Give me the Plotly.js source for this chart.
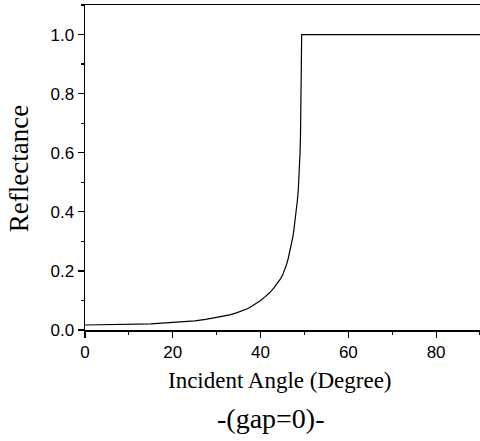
<!DOCTYPE html>
<html>
<head>
<meta charset="utf-8">
<script src="https://cdn.plot.ly/plotly-3.0.1.min.js"></script>
<style>html,body{margin:0;padding:0;background:#fff;}</style>
</head>
<body>
<div id="chart" style="width:480px;height:441px;"></div>
<script>
const angle = [0, 5, 10, 15, 17.5, 20, 22.5, 25, 27.5, 30, 31.5, 33, 34.5, 36, 37, 38, 39, 40, 41, 42, 43, 43.5, 44, 44.5, 45, 45.5, 46, 46.3, 46.6, 46.9, 47.2, 47.4, 47.6, 47.8, 48.0, 48.2, 48.4, 48.6, 48.8, 49.0, 49.1, 49.2, 49.3, 49.37, 90];
const reflectance = [0.017, 0.0175, 0.019, 0.021, 0.023, 0.025, 0.028, 0.031, 0.036, 0.042, 0.046, 0.051, 0.058, 0.066, 0.072, 0.080, 0.089, 0.100, 0.112, 0.125, 0.142, 0.151, 0.162, 0.172, 0.185, 0.203, 0.225, 0.242, 0.26, 0.28, 0.30, 0.318, 0.34, 0.363, 0.39, 0.413, 0.44, 0.475, 0.52, 0.60, 0.66, 0.74, 0.84, 1.0, 1.0];
const xTitle = "Incident Angle (Degree)";
const yTitle = "Reflectance";
const subTitle = "-(gap=0)-";

const trace = {
  x: angle, y: reflectance, type: 'scatter', mode: 'lines',
  line: {color: '#000', width: 1.2}, hoverinfo: 'skip'
};
const tickFont = {family: 'Liberation Sans, Arial, sans-serif', size: 17, color: '#000'};
const xTitleFont = {family: 'Liberation Serif, Times New Roman, serif', size: 23, color: '#000'};
const subTitleFont = {family: 'Liberation Serif, Times New Roman, serif', size: 28, color: '#000'};
const yTitleFont = {family: 'Liberation Serif, Times New Roman, serif', size: 27, color: '#000'};
const layout = {
  width: 480, height: 441,
  margin: {l: 85, r: 0, t: 5, b: 111},
  paper_bgcolor: '#fff', plot_bgcolor: '#fff',
  showlegend: false,
  xaxis: {
    range: [0, 90], showgrid: false, zeroline: false,
    showline: true, linecolor: '#000', linewidth: 1.5, mirror: true,
    ticks: 'outside', ticklen: 6, tickwidth: 1.2, tickcolor: '#000',
    dtick: 20, tick0: 0, tickfont: tickFont,
    minor: {dtick: 10, ticks: 'outside', ticklen: 3, tickwidth: 1.2, tickcolor: '#000', showgrid: false}
  },
  yaxis: {
    range: [0, 1.1], showgrid: false, zeroline: false,
    showline: true, linecolor: '#000', linewidth: 1.5, mirror: false,
    ticks: 'outside', ticklen: 6, tickwidth: 1.2, tickcolor: '#000',
    dtick: 0.2, tick0: 0, tickformat: '.1f', tickfont: tickFont,
    minor: {dtick: 0.1, ticks: 'outside', ticklen: 3, tickwidth: 1.2, tickcolor: '#000', showgrid: false}
  },
  annotations: [
    {text: xTitle, xref: 'paper', yref: 'paper', x: 0.494, y: -0.154, xanchor: 'center', yanchor: 'middle', showarrow: false, font: xTitleFont},
    {text: subTitle, xref: 'paper', yref: 'paper', x: 0.471, y: -0.271, xanchor: 'center', yanchor: 'middle', showarrow: false, font: subTitleFont},
    {text: yTitle, xref: 'paper', yref: 'paper', x: -0.167, y: 0.495, xanchor: 'center', yanchor: 'middle', textangle: -90, showarrow: false, font: yTitleFont}
  ]
};
Plotly.newPlot('chart', [trace], layout, {displayModeBar: false, staticPlot: true});
</script>
</body>
</html>
